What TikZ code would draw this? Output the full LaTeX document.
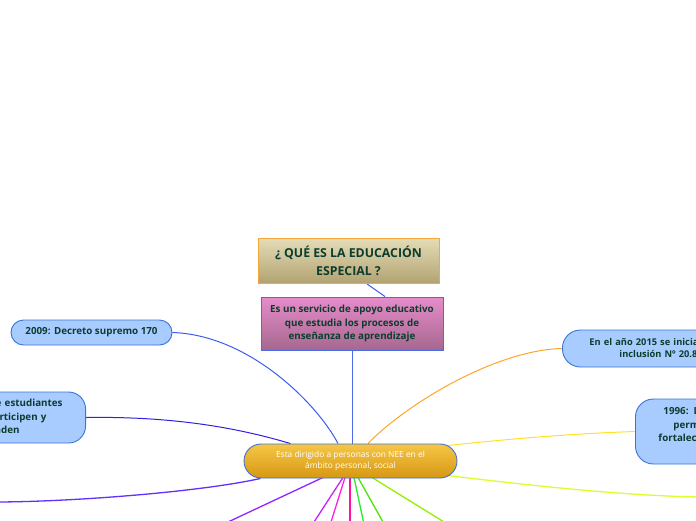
\documentclass[tikz,border=0pt]{standalone}
\usepackage{fontspec}
\setmainfont{Open Sans}
\usetikzlibrary{backgrounds}
\definecolor{tgreen}{HTML}{0B3D2E}
\definecolor{bfill}{HTML}{A8CCFF}
\definecolor{bborder}{HTML}{3A74D6}
\definecolor{ctop}{HTML}{F6C646}
\definecolor{cbot}{HTML}{D69814}
\definecolor{ttop}{HTML}{E4DCB6}
\definecolor{tbot}{HTML}{B2A272}
\definecolor{tborder}{HTML}{F4A83A}
\definecolor{stop}{HTML}{E68CCA}
\definecolor{sbot}{HTML}{A6688E}
\definecolor{sborder}{HTML}{4A6AE8}
\definecolor{lblue}{HTML}{3A5CF0}
\definecolor{lindigo}{HTML}{3020E0}
\definecolor{lorange}{HTML}{FFA428}
\definecolor{lyellow}{HTML}{FFE224}
\definecolor{lpurple}{HTML}{6030FF}
\definecolor{lviolet}{HTML}{9424FF}
\definecolor{lmagpur}{HTML}{C424F8}
\definecolor{lmagenta}{HTML}{FF20E0}
\definecolor{lpink}{HTML}{FF10A0}
\definecolor{lgreen}{HTML}{24EE24}
\definecolor{lgreenb}{HTML}{4CE400}
\definecolor{llime}{HTML}{94F000}
\definecolor{lyg}{HTML}{D8FF30}
\tikzset{
  txt/.style={text=tgreen, font=\fontsize{9.8}{13.5}\selectfont\bfseries},
  bluebox/.style={txt, draw=bborder, line width=0.9pt, fill=bfill, inner ysep=0pt},
  conn/.style={line width=1pt},
  ray/.style={line width=1.3pt},
}
\begin{document}
\begin{tikzpicture}[x=1pt,y=-1pt]
\useasboundingbox (0,0) rectangle (696,520);
\clip (0,0) rectangle (696,520);

% nodes
\node[txt, draw=tborder, line width=0.9pt, top color=ttop, bottom color=tbot,
      minimum width=181pt, minimum height=45pt, inner sep=0pt, align=center,
      font=\fontsize{12.3}{18}\selectfont\bfseries]
  (title) at (348.5,261) {¿ QUÉ ES LA EDUCACIÓN\\ESPECIAL ?};
\node[txt, draw=sborder, line width=0.9pt, top color=stop, bottom color=sbot,
      minimum width=182pt, minimum height=53pt, inner sep=0pt, align=center]
  (sub) at (352,323.5) {Es un servicio de apoyo educativo\\que estudia los procesos de\\enseñanza de aprendizaje};
\node[draw=bborder, line width=0.9pt, top color=ctop, bottom color=cbot,
      rounded corners=17pt, minimum width=213pt, minimum height=34pt, inner sep=0pt,
      align=center, text=white, font=\fontsize{8.4}{11}\selectfont]
  (center) at (350.5,461) {Esta dirigido a personas con NEE en el\\ámbito personal, social};
\node[bluebox, rounded corners=12.5pt, minimum width=161pt, minimum height=25pt, inner xsep=0pt]
  (n2009) at (91.5,332.5) {2009: Decreto supremo 170};
\node[bluebox, rounded corners=17pt, anchor=east, minimum height=51pt,
      inner xsep=23pt, text width=170pt, align=right]
  (nleft) at (86,417.5) {Permitir que estudiantes\\con NEE participen y\rule{16pt}{0pt}\\aprenden\rule{43pt}{0pt}};
\node[bluebox, rounded corners=18pt, anchor=west, minimum height=37pt,
      inner xsep=27pt, text width=170pt, align=left, font=\fontsize{9.3}{12}\selectfont\bfseries]
  (n2015) at (562,348.5) {En el año 2015 se inicia la ley de\\\hspace*{30pt}inclusión Nº 20.845};
\node[bluebox, rounded corners=18pt, anchor=west, minimum height=65pt,
      inner xsep=23pt, text width=130pt, align=left]
  (n1996) at (635,431.5) {\hspace*{5pt}1996: La JEC\\\hspace*{15pt}permite\\fortalecer la\\\hspace*{60pt}educación};

% free ends
\coordinate (e1) at (-6,502);
\coordinate (e2) at (228,522);
\coordinate (e3) at (314,522);
\coordinate (e4) at (331,522);
\coordinate (e5) at (350,522);
\coordinate (e6) at (363.5,522);
\coordinate (e7) at (383,522);
\coordinate (e8) at (444,522);
\coordinate (e9) at (702,497);

\begin{pgfonlayer}{background}
\draw[conn, draw=lblue] ([xshift=18.5pt]title.south) -- ([xshift=33pt]sub.north);
\draw[conn, draw=sborder] (sub.south) -- (sub.south |- center.north);
\draw[conn, draw=lblue] (n2009.east) .. controls (250,335) and (318,405) .. ([xshift=-12.5pt]center.north);
\draw[conn, draw=lindigo] (nleft.east) .. controls (180,416) and (245,430) .. ([xshift=-60pt]center.north);
\draw[conn, draw=lorange] (n2015.west) .. controls (495,350) and (405,405) .. ([xshift=17.5pt]center.north);
\draw[conn, draw=lyellow] (n1996.west) .. controls (560,434) and (490,441) .. ([xshift=-10pt,yshift=-2pt]center.north east);
\draw[ray, draw=lpurple] ([xshift=-90pt]center.south) .. controls (200,492) and (70,502) .. (e1);
\draw[ray, draw=lviolet] ([xshift=-27.5pt,yshift=1pt]center.south) -- (e2);
\draw[ray, draw=lmagpur] ([xshift=-7.5pt,yshift=1pt]center.south) -- (e3);
\draw[ray, draw=lmagenta] ([xshift=-5.5pt,yshift=1pt]center.south) -- (e4);
\draw[ray, draw=lpink] ([xshift=-0.5pt,yshift=1pt]center.south) -- (e5);
\draw[ray, draw=lgreen] ([xshift=3.5pt,yshift=1pt]center.south) -- (e6);
\draw[ray, draw=lgreenb] ([xshift=7.5pt,yshift=1pt]center.south) -- (e7);
\draw[ray, draw=llime] ([xshift=21.5pt,yshift=1pt]center.south) -- (e8);
\draw[ray, draw=lyg] ([xshift=-10pt,yshift=3pt]center.south east) .. controls (510,483) and (620,496) .. (e9);
\end{pgfonlayer}
\end{tikzpicture}
\end{document}
